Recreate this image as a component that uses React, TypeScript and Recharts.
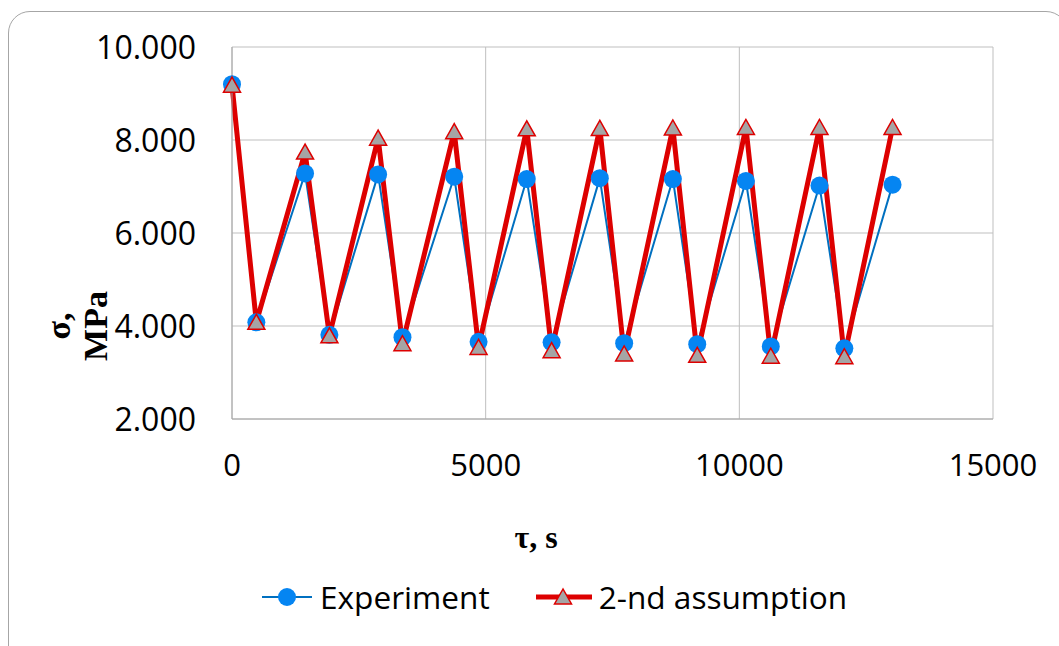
import React from 'react';
import { LineChart, Line, XAxis, YAxis, CartesianGrid, Legend } from 'recharts';

const times = [0, 480, 1440, 1920, 2880, 3360, 4380, 4860, 5810, 6300, 7250, 7730, 8690, 9170, 10130, 10620, 11580, 12070, 13020];
const experiment = [9.2, 4.08, 7.28, 3.81, 7.26, 3.76, 7.21, 3.66, 7.16, 3.65, 7.18, 3.63, 7.16, 3.61, 7.12, 3.56, 7.02, 3.52, 7.04];
const assumption = [9.18, 4.08, 7.74, 3.79, 8.04, 3.62, 8.18, 3.54, 8.24, 3.47, 8.25, 3.4, 8.26, 3.37, 8.27, 3.35, 8.27, 3.34, 8.27];
const xTicks = [0, 5000, 10000, 15000];
const yTicks = [2, 4, 6, 8, 10];
const seriesNames = ['Experiment', '2-nd assumption'];

const data = times.map((t, i) => ({ t, exp: experiment[i], asm: assumption[i] }));

const BLUE_LINE = '#0070C0';
const BLUE_DOT = '#0585F2';
const RED = '#DD0000';
const GRAY_TRI = '#A5A5A5';
const SANS = '"Open Sans", sans-serif';
const SERIF = '"Liberation Serif", "Times New Roman", serif';

const Triangle = (props: any) => {
  const { cx, cy } = props;
  if (cx == null || cy == null) return null;
  const w = 8.5;
  return (
    <polygon
      points={`${cx},${cy - 8} ${cx - w},${cy + 7} ${cx + w},${cy + 7}`}
      fill={GRAY_TRI}
      stroke={RED}
      strokeWidth={1.5}
    />
  );
};

const XTick = (props: any) => {
  const { x, y, payload } = props;
  return (
    <text x={x} y={y + 57} textAnchor="middle" fontFamily={SANS} fontSize={31} fill="#000">
      {payload.value}
    </text>
  );
};

const YTick = (props: any) => {
  const { x, y, payload } = props;
  return (
    <text x={x - 36} y={y + 12} textAnchor="end" fontFamily={SANS} fontSize={32} fill="#000">
      {Number(payload.value).toFixed(3)}
    </text>
  );
};

const YTitle = (props: any) => {
  const vb = props.viewBox || {};
  const cy = (vb.y ?? 47) + 279;
  const x1 = 70;
  const x2 = 107;
  return (
    <g>
      <text x={x1} y={cy} transform={`rotate(-90 ${x1} ${cy})`} textAnchor="middle" fontFamily={SERIF} fontWeight="bold" fontSize={34} fill="#000">σ,</text>
      <text x={x2} y={cy} transform={`rotate(-90 ${x2} ${cy})`} textAnchor="middle" fontFamily={SERIF} fontWeight="bold" fontSize={34} fill="#000">MPa</text>
    </g>
  );
};

const XTitle = (props: any) => {
  const vb = props.viewBox || {};
  const x = (vb.x ?? 232) + 304;
  const y = (vb.y ?? 419) + 129;
  return (
    <text x={x} y={y} textAnchor="middle" fontFamily={SERIF} fontWeight="bold" fontSize={32} fill="#000">τ, s</text>
  );
};

const LegendContent = () => (
  <div style={{ display: 'flex', alignItems: 'center', fontFamily: SANS, fontSize: 31.6, lineHeight: '36px', color: '#000', whiteSpace: 'nowrap' }}>
    <svg width={52} height={24} style={{ display: 'block' }}>
      <line x1={1} y1={12} x2={51} y2={12} stroke={BLUE_LINE} strokeWidth={2} />
      <circle cx={26} cy={12} r={9} fill={BLUE_DOT} />
    </svg>
    <span style={{ marginLeft: 7 }}>{seriesNames[0]}</span>
    <svg width={58} height={24} style={{ display: 'block', marginLeft: 45 }}>
      <line x1={1} y1={12} x2={57} y2={12} stroke={RED} strokeWidth={5} />
      <polygon points="28,4 19.5,19 36.5,19" fill={GRAY_TRI} stroke={RED} strokeWidth={1.5} />
    </svg>
    <span style={{ marginLeft: 6 }}>{seriesNames[1]}</span>
  </div>
);

export default function App() {
  return (
    <div style={{ position: 'absolute', left: 0, top: 0, width: 1059, height: 646, overflow: 'hidden', background: '#fff' }}>
      <div style={{ position: 'absolute', left: 8, top: 11, width: 1060, height: 700, border: '1.5px solid #A6A6A6', borderRadius: 22, boxSizing: 'border-box' }} />
      <div style={{ position: 'absolute', left: 0, top: 0 }}>
        <LineChart width={1059} height={646} data={data} margin={{ top: 47, right: 66, bottom: 0, left: 0 }}>
          <CartesianGrid stroke="#BFBFBF" strokeWidth={1} horizontalValues={yTicks} verticalValues={xTicks} />
          <XAxis
            type="number"
            dataKey="t"
            domain={[0, 15000]}
            ticks={xTicks}
            height={227}
            tickSize={0}
            tickMargin={0}
            tick={<XTick />}
            axisLine={{ stroke: '#A6A6A6' }}
            label={<XTitle />}
          />
          <YAxis
            type="number"
            domain={[2, 10]}
            ticks={yTicks}
            width={232}
            tickSize={0}
            tickMargin={0}
            tick={<YTick />}
            axisLine={{ stroke: '#A6A6A6' }}
            label={<YTitle />}
          />
          <Line
            dataKey="exp"
            name={seriesNames[0]}
            stroke={BLUE_LINE}
            strokeWidth={2}
            dot={{ r: 9, fill: BLUE_DOT, stroke: 'none' }}
            activeDot={false}
            isAnimationActive={false}
          />
          <Line
            dataKey="asm"
            name={seriesNames[1]}
            stroke={RED}
            strokeWidth={5}
            strokeLinejoin="miter"
            dot={<Triangle />}
            activeDot={false}
            isAnimationActive={false}
          />
          <Legend
            layout="horizontal"
            verticalAlign="middle"
            align="center"
            content={<LegendContent />}
            wrapperStyle={{ left: 261, top: 579, width: 640 }}
          />
        </LineChart>
      </div>
    </div>
  );
}
